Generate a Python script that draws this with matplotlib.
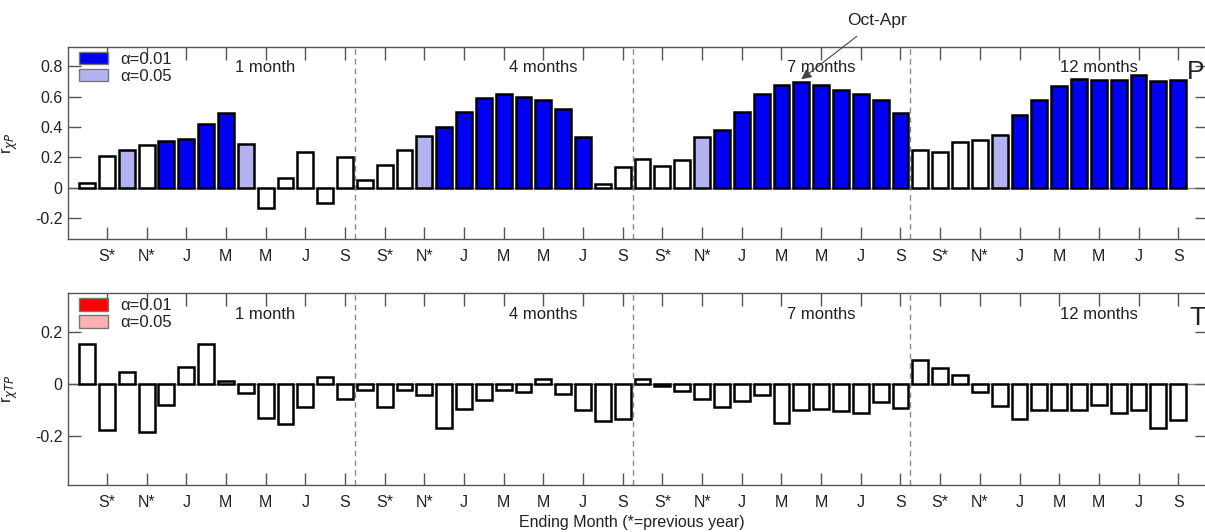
import matplotlib
matplotlib.use("Agg")
import matplotlib.pyplot as plt
from matplotlib.patches import Patch
import numpy as np

plt.rcParams['font.family'] = ['Liberation Sans', 'DejaVu Sans']
plt.rcParams['font.size'] = 11.5

# Accumulation periods and ending months (Aug of previous year .. Sep)
periods = ['1 month', '4 months', '7 months', '12 months']
tick_labels = ['S*', 'N*', 'J', 'M', 'M', 'J', 'S']

# Correlation with precipitation (r_xP)
p_1m = [0.03, 0.21, 0.245, 0.28, 0.31, 0.32, 0.42, 0.49, 0.29, -0.135, 0.06, 0.235, -0.10, 0.20]
p_4m = [0.05, 0.15, 0.25, 0.34, 0.40, 0.50, 0.59, 0.615, 0.60, 0.58, 0.52, 0.335, 0.02, 0.135]
p_7m = [0.19, 0.14, 0.18, 0.335, 0.38, 0.50, 0.615, 0.68, 0.695, 0.68, 0.645, 0.62, 0.58, 0.49]
p_12m = [0.25, 0.235, 0.30, 0.315, 0.345, 0.48, 0.58, 0.67, 0.715, 0.71, 0.71, 0.74, 0.705, 0.71]

# Significance: 0 = not significant, 1 = alpha 0.05, 2 = alpha 0.01
p_1m_sig = [0, 0, 1, 0, 2, 2, 2, 2, 1, 0, 0, 0, 0, 0]
p_4m_sig = [0, 0, 0, 1, 2, 2, 2, 2, 2, 2, 2, 2, 0, 0]
p_7m_sig = [0, 0, 0, 1, 2, 2, 2, 2, 2, 2, 2, 2, 2, 2]
p_12m_sig = [0, 0, 0, 0, 1, 2, 2, 2, 2, 2, 2, 2, 2, 2]

# Partial correlation with temperature given precipitation (r_xTP)
t_1m = [0.155, -0.174, 0.049, -0.183, -0.08, 0.065, 0.155, 0.014, -0.035, -0.129, -0.151, -0.089, 0.03, -0.058]
t_4m = [-0.02, -0.088, -0.02, -0.04, -0.167, -0.094, -0.06, -0.02, -0.03, 0.02, -0.038, -0.10, -0.14, -0.134]
t_7m = [0.02, -0.005, -0.025, -0.058, -0.086, -0.064, -0.04, -0.148, -0.097, -0.094, -0.103, -0.11, -0.068, -0.09]
t_12m = [0.095, 0.061, 0.035, -0.03, -0.084, -0.133, -0.098, -0.098, -0.097, -0.079, -0.111, -0.10, -0.169, -0.139]
t_sig = [0] * 56

p_vals = p_1m + p_4m + p_7m + p_12m
p_sig = p_1m_sig + p_4m_sig + p_7m_sig + p_12m_sig
t_vals = t_1m + t_4m + t_7m + t_12m

n_per = 14
x = np.arange(len(p_vals))

blue_cols = ['white', '#b3b3f2', '#0000f5']
red_cols = ['white', '#ffb0b0', '#ff0000']

W, H = 1205, 532
fig = plt.figure(figsize=(W / 100, H / 100), dpi=100)

left = 68 / W
width = 1139 / W
ax1 = fig.add_axes([left, 1 - 239 / H, width, (239 - 46.7) / H])
ax2 = fig.add_axes([left, 1 - 485 / H, width, (485 - 293.3) / H])

spine_col = '#555555'
text_col = '#222222'


def style(ax, ylim, yticks, cols, vals, sig, ylabel, label_y):
    ax.axhline(0, color='#8a8a8a', lw=1.0, zorder=0)
    ax.bar(x, vals, width=0.8, color=[cols[s] for s in sig],
           edgecolor='black', linewidth=1.8, zorder=2)
    for b in range(1, len(periods)):
        ax.axvline(b * n_per - 0.5, color='#8a8a8a', lw=1.0, ls=(0, (4, 3)), zorder=1)
    ax.set_xlim(-0.96, 56.45)
    ax.set_ylim(*ylim)
    ticks = [g * n_per + k for g in range(len(periods)) for k in range(1, n_per, 2)]
    ax.set_xticks(ticks)
    ax.set_xticklabels(tick_labels * len(periods), color=text_col)
    ax.set_yticks(yticks)
    ax.set_yticklabels(['0' if v == 0 else f'{v:g}' for v in yticks], color=text_col)
    ax.tick_params(direction='in', length=9, width=1.0, color=spine_col,
                   top=True, right=True)
    ax.tick_params(axis='x', pad=7)
    ax.tick_params(axis='y', pad=4)
    for s in ax.spines.values():
        s.set_color(spine_col)
        s.set_linewidth(1.0)
    for g, name in enumerate(periods):
        ax.text(g * n_per + 9, label_y, name, ha='center', va='center',
                color=text_col, fontsize=12)
    ax.set_ylabel(ylabel, color=text_col, fontsize=12)
    ax.legend(handles=[Patch(facecolor=cols[2], edgecolor='#777777', label='α=0.01'),
                       Patch(facecolor=cols[1], edgecolor='#777777', label='α=0.05')],
              loc='upper left', bbox_to_anchor=(0.0097, 0.975), frameon=False,
              handlelength=1.75, handleheight=0.8, handletextpad=0.75,
              labelspacing=0.12, borderaxespad=0, borderpad=0, fontsize=12,
              labelcolor=text_col)


style(ax1, (-0.34, 0.93), [-0.2, 0, 0.2, 0.4, 0.6, 0.8], blue_cols,
      p_vals, p_sig, r'r$_{\chi P}$', 0.79)
style(ax2, (-0.387, 0.35), [-0.2, 0, 0.2], red_cols,
      t_vals, t_sig, r'r$_{\chi TP}$', 0.27)

ax1.yaxis.set_label_coords(-0.042, 0.5)
ax2.yaxis.set_label_coords(-0.042, 0.5)

fig.text(1187 / W, 1 - 72 / H, 'P', ha='left', va='center', fontsize=19, color=text_col)
fig.text(1189 / W, 1 - 318 / H, 'T', ha='left', va='center', fontsize=19, color=text_col)

# Highlight the best-correlated 7-month window ending in April
apr7 = 2 * n_per + 8
ax1.annotate('Oct-Apr', xy=(apr7, p_vals[apr7] + 0.02), xytext=(39.8, 1.10),
             ha='center', va='center', fontsize=12.5, color=text_col,
             annotation_clip=False,
             arrowprops=dict(arrowstyle='-|>', color='#444444', lw=0.8,
                             mutation_scale=15, shrinkA=6, shrinkB=0))

fig.text(0.524, 1 - 522 / H, 'Ending Month (*=previous year)', ha='center',
         va='center', fontsize=11.5, color=text_col)

fig.savefig('out.png', dpi=100)
